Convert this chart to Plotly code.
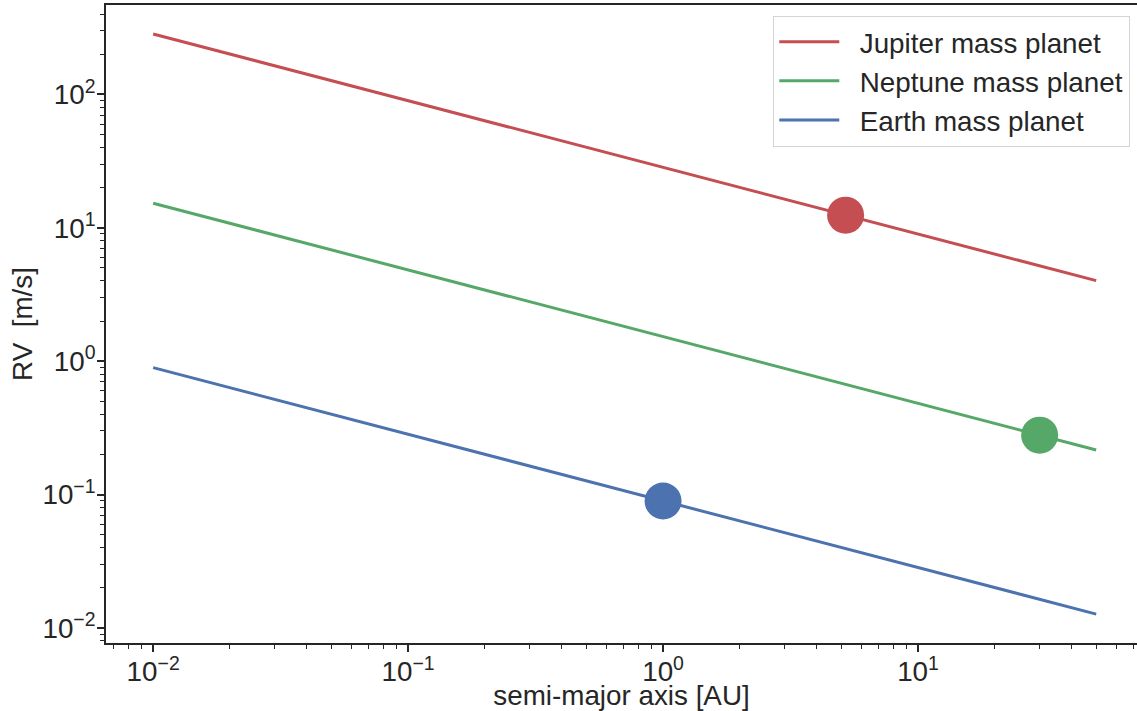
import plotly.graph_objects as go

# Semi-major axis span of the curves [AU]
a_span = [0.01, 50.0]

# Radial-velocity semi-amplitude at the ends of each curve [m/s]
rv_jupiter = [284.0, 4.02]
rv_neptune = [15.3, 0.216]
rv_earth = [0.895, 0.0127]

# Solar-system planets placed on their curves
planet_a = [5.2, 30.0, 1.0]
planet_rv = [12.45, 0.279, 0.0895]

names = ["Jupiter mass planet", "Neptune mass planet", "Earth mass planet"]
colors = ["#C44E52", "#55A868", "#4C72B0"]

x_major = [0.01, 0.1, 1, 10]
x_major_text = ["10<sup>\u22122</sup>", "10<sup>\u22121</sup>", "10<sup>0</sup>", "10<sup>1</sup>"]
y_major = [0.01, 0.1, 1, 10, 100]
y_major_text = ["10<sup>\u22122</sup>", "10<sup>\u22121</sup>", "10<sup>0</sup>",
                "10<sup>1</sup>", "10<sup>2</sup>"]

minor_vals = [k * 10.0 ** n for n in range(-4, 4) for k in range(2, 10)]

INK = "#262626"
FONT = "Liberation Sans, Arial, sans-serif"
FS = 27.8
PAD = "\u00a0\u00a0"  # gap between legend line sample and its label

fig = go.Figure()
for name, col, rv in zip(names, colors, [rv_jupiter, rv_neptune, rv_earth]):
    fig.add_trace(go.Scatter(
        x=a_span, y=rv, mode="lines", name=PAD + name,
        line=dict(color=col, width=3),
    ))
for a, rv, col in zip(planet_a, planet_rv, colors):
    fig.add_trace(go.Scatter(
        x=[a], y=[rv], mode="markers", showlegend=False,
        marker=dict(color=col, size=37, line=dict(width=0)),
    ))

axis_common = dict(
    type="log", automargin=False,
    showgrid=False, zeroline=False,
    showline=True, linecolor=INK, linewidth=1.8,
    ticks="outside", ticklen=7, tickwidth=1.5, tickcolor=INK,
    tickfont=dict(family=FONT, size=FS, color=INK),
    minor=dict(tickvals=minor_vals, ticks="outside", ticklen=4,
               tickwidth=1.2, tickcolor=INK, showgrid=False),
)

fig.update_xaxes(
    **axis_common, range=[-2.185, 1.859], mirror=True,
    tickvals=x_major, ticktext=x_major_text, ticklabelstandoff=-4,
    title=dict(text="semi-major axis [AU]", font=dict(family=FONT, size=FS, color=INK),
               standoff=6),
)
fig.update_yaxes(
    **axis_common, range=[-2.113, 2.671],
    tickvals=y_major, ticktext=y_major_text, ticklabelstandoff=-4,
    title=dict(text="RV\u00a0 [m/s]", font=dict(family=FONT, size=FS, color=INK),
               standoff=2),
)

fig.update_layout(
    width=1137, height=711,
    margin=dict(l=106, r=0, t=5, b=68, autoexpand=False),
    paper_bgcolor="white", plot_bgcolor="white",
    font=dict(family=FONT, size=FS, color=INK),
    legend=dict(
        x=0.9932, y=0.983, xanchor="right", yanchor="top",
        bgcolor="white", bordercolor="#d4d4d4", borderwidth=1.3,
        font=dict(family=FONT, size=FS, color=INK),
        itemwidth=60,
    ),
    showlegend=True,
)

fig.write_html("out.html")
